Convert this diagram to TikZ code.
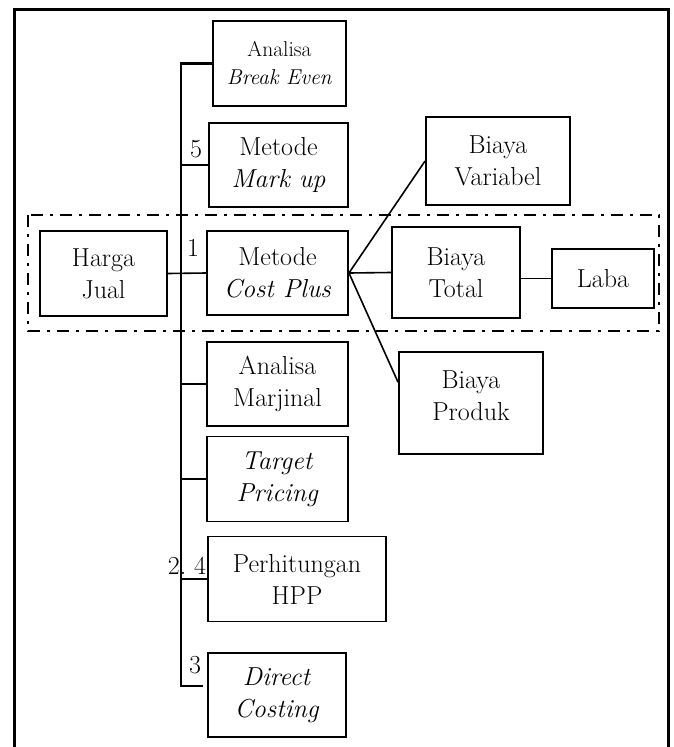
\documentclass[tikz,border=0pt]{standalone}
\usepackage{tikz}
\usetikzlibrary{calc}

\tikzset{
  kotak/.style={draw, line width=1.9pt, align=center, inner sep=0pt,
    font=\fontsize{26}{32}\selectfont},
  nomor/.style={inner sep=0pt, font=\fontsize{26}{30}\selectfont},
  garis/.style={line width=1.6pt}
}

\begin{document}
\begin{tikzpicture}[x=1pt, y=-1pt]
    \useasboundingbox (0,0) rectangle (673,747);

    % Draw the outer frame
    \draw[line width=3pt] (14,747) -- (14,9.5) -- (668,9.5) -- (668,747);

    % Draw the dash-dot box
    \draw[line width=2.8pt, dash pattern=on 12pt off 7pt on 3pt off 7pt]
      (28,215) rectangle (659,331);

    % Boxes
    \node[kotak, minimum width=133pt, minimum height=85pt,
      font=\fontsize{21.5}{28}\selectfont] (bep) at (279.5,63.5)
      {Analisa\\\textit{Break Even}};
    \node[kotak, minimum width=139pt, minimum height=84pt] (markup) at (278.5,165)
      {Metode\\\textit{Mark up}};
    \node[kotak, minimum width=127pt, minimum height=85pt] (hj) at (103.5,273.5)
      {Harga\\Jual};
    \node[kotak, minimum width=141pt, minimum height=84pt] (costplus) at (277.5,273)
      {Metode\\\textit{Cost Plus}};
    \node[kotak, minimum width=144pt, minimum height=88pt] (bvar) at (498,161)
      {Biaya\\Variabel};
    \node[kotak, minimum width=128pt, minimum height=91pt] (btot) at (456,272.5)
      {Biaya\\Total};
    \node[kotak, minimum width=102pt, minimum height=59pt] (laba) at (603,278.5)
      {Laba};
    \node[kotak, minimum width=144pt, minimum height=102pt] (bprod) at (471,403)
      {Biaya\\Produk\\[-18pt]};
    \node[kotak, minimum width=141pt, minimum height=84pt] (marjinal) at (277.5,384)
      {Analisa\\Marjinal};
    \node[kotak, minimum width=141pt, minimum height=85pt] (target) at (277.5,479)
      {\textit{Target}\\\textit{Pricing}};
    \node[kotak, minimum width=178pt, minimum height=85pt] (hpp) at (297,579)
      {Perhitungan\\HPP};
    \node[kotak, minimum width=138pt, minimum height=84pt] (direct) at (277,695)
      {\textit{Direct}\\\textit{Costing}};

    % Numbers
    \node[nomor] (lbl5) at (196,149) {5};
    \node[nomor] (lbl1) at (193,248) {1};
    \node[nomor] (lbl24) at (187,566) {2.\ 4};
    \node[nomor] (lbl3) at (195,665) {3};

    % Draw the spine
    \coordinate (bawah) at (181,686);
    \coordinate (ujung) at (203,686);
    \draw[garis, line width=2.4pt] (bep.west) -| (bawah) -- (ujung);
    \foreach \n in {markup,marjinal,target,hpp}
      \draw[garis] (\n.west) -- (\n.west -| bawah);

    % Connectors
    \draw[garis] (hj.east) -- (costplus.west);
    \draw[garis] (costplus.east) -- (bvar.west);
    \draw[garis] (costplus.east) -- (btot.west);
    \draw[garis] (costplus.east) -- ($(bprod.north west)!0.3!(bprod.south west)$);
    \draw[garis] (laba.west) -- (laba.west -| btot.east);
\end{tikzpicture}
\end{document}
